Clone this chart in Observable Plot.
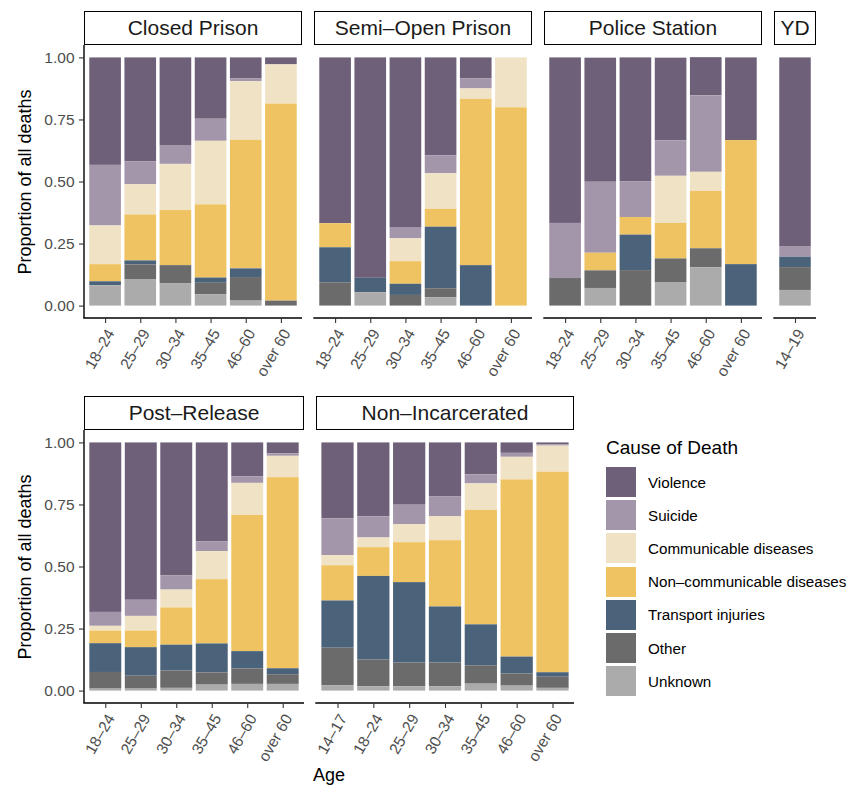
<!DOCTYPE html>
<html>
<head>
<meta charset="utf-8">
<script src="https://cdn.jsdelivr.net/npm/d3@7"></script>
<script src="https://cdn.jsdelivr.net/npm/@observablehq/plot@0.6"></script>
<style>
  body { margin: 0; background: #fff; font-family: "Liberation Sans", Arial, Helvetica, sans-serif; }
  #root { position: relative; width: 851px; height: 788px; overflow: hidden; background: #fff; }
  .strip { position: absolute; box-sizing: border-box; border: 1.6px solid #000; background: #fff;
           display: flex; align-items: center; justify-content: center; font-size: 21px; color: #1a1a1a; white-space: nowrap; }
  .ytitle { position: absolute; font-size: 18px; color: #000; white-space: nowrap;
            transform: translate(-50%, -50%) rotate(-90deg); }
  .xtitle { position: absolute; font-size: 18px; color: #000; white-space: nowrap; transform: translateX(-50%); }
  .legend { position: absolute; }
  .legend-title { font-size: 19px; color: #000; white-space: nowrap; }
  .legend-row { display: flex; align-items: center; height: 33.2px; }
  .legend-swatch { width: 30px; height: 30px; margin-right: 12px; }
  .legend-label { font-size: 15.2px; color: #000; white-space: nowrap; }
  svg.panel { position: absolute; overflow: visible; max-width: none; background: transparent; }
</style>
</head>
<body>
<div id="root"></div>
<script>
// ---------- data ----------
const causes = ["Violence", "Suicide", "Communicable diseases", "Non–communicable diseases",
                "Transport injuries", "Other", "Unknown"];
const causeColors = ["#6f6079", "#a496aa", "#f0e2c4", "#f0c362", "#4b637a", "#6b6b6b", "#ababab"];

// each values table: one row per cause (in the order of `causes`), one column per age group
const closedAges = ["18–24", "25–29", "30–34", "35–45", "46–60", "over 60"];
const closedValues = [
  [0.433, 0.418, 0.353, 0.247, 0.085, 0.028], // Violence
  [0.244, 0.093, 0.076, 0.089, 0.011, 0.000], // Suicide
  [0.156, 0.122, 0.186, 0.256, 0.236, 0.158], // Communicable
  [0.069, 0.185, 0.222, 0.295, 0.518, 0.794], // Non-communicable
  [0.016, 0.016, 0.000, 0.021, 0.035, 0.000], // Transport
  [0.000, 0.061, 0.074, 0.046, 0.095, 0.020], // Other
  [0.082, 0.105, 0.089, 0.046, 0.020, 0.000]  // Unknown
];

const semiAges = ["18–24", "25–29", "30–34", "35–45", "46–60", "over 60"];
const semiValues = [
  [0.668, 0.888, 0.686, 0.395, 0.085, 0.000],
  [0.000, 0.000, 0.043, 0.071, 0.040, 0.000],
  [0.000, 0.000, 0.092, 0.144, 0.042, 0.201],
  [0.097, 0.000, 0.091, 0.072, 0.670, 0.799],
  [0.141, 0.058, 0.045, 0.248, 0.163, 0.000],
  [0.094, 0.000, 0.043, 0.036, 0.000, 0.000],
  [0.000, 0.054, 0.000, 0.034, 0.000, 0.000]
];

const policeAges = ["18–24", "25–29", "30–34", "35–45", "46–60", "over 60"];
const policeValues = [
  [0.667, 0.500, 0.500, 0.333, 0.154, 0.333],
  [0.222, 0.286, 0.143, 0.143, 0.308, 0.000],
  [0.000, 0.000, 0.000, 0.190, 0.077, 0.000],
  [0.000, 0.071, 0.071, 0.143, 0.231, 0.500],
  [0.000, 0.000, 0.143, 0.000, 0.000, 0.167],
  [0.111, 0.071, 0.143, 0.095, 0.077, 0.000],
  [0.000, 0.071, 0.000, 0.095, 0.154, 0.000]
];

const ydAges = ["14–19"];
const ydValues = [[0.760], [0.043], [0.000], [0.000], [0.042], [0.092], [0.063]];

const postAges = ["18–24", "25–29", "30–34", "35–45", "46–60", "over 60"];
const postValues = [
  [0.683, 0.634, 0.536, 0.399, 0.137, 0.044],
  [0.056, 0.065, 0.057, 0.039, 0.026, 0.010],
  [0.019, 0.059, 0.072, 0.113, 0.129, 0.086],
  [0.051, 0.067, 0.150, 0.259, 0.549, 0.770],
  [0.116, 0.115, 0.104, 0.117, 0.070, 0.024],
  [0.067, 0.052, 0.070, 0.049, 0.062, 0.039],
  [0.008, 0.008, 0.011, 0.024, 0.027, 0.027]
];

const nonIncAges = ["14–17", "18–24", "25–29", "30–34", "35–45", "46–60", "over 60"];
const nonIncValues = [
  [0.306, 0.298, 0.251, 0.218, 0.129, 0.042, 0.008],
  [0.148, 0.085, 0.078, 0.079, 0.036, 0.016, 0.005],
  [0.041, 0.039, 0.073, 0.097, 0.107, 0.091, 0.105],
  [0.142, 0.116, 0.161, 0.267, 0.461, 0.714, 0.808],
  [0.190, 0.337, 0.324, 0.226, 0.165, 0.068, 0.018],
  [0.151, 0.108, 0.096, 0.096, 0.074, 0.049, 0.045],
  [0.022, 0.017, 0.017, 0.017, 0.028, 0.020, 0.011]
];

const yTicks = [0, 0.25, 0.5, 0.75, 1];

// ---------- layout ----------
const panels = [
  {title: "Closed Prison",     ages: closedAges, values: closedValues, left: 84,  top: 45,  width: 218, yAxis: true},
  {title: "Semi–Open Prison",  ages: semiAges,   values: semiValues,   left: 314, top: 45,  width: 218, yAxis: false},
  {title: "Police Station",    ages: policeAges, values: policeValues, left: 544, top: 45,  width: 218, yAxis: false},
  {title: "YD",                ages: ydAges,     values: ydValues,     left: 774, top: 45,  width: 42,  yAxis: false},
  {title: "Post–Release",      ages: postAges,   values: postValues,   left: 84,  top: 430, width: 220, yAxis: true},
  {title: "Non–Incarcerated",  ages: nonIncAges, values: nonIncValues, left: 316, top: 430, width: 258, yAxis: false}
];
const panelH = 273, stripH = 34;
const font = '"Liberation Sans", Arial, Helvetica, sans-serif';

const root = document.getElementById("root");
const stackOrder = causes.slice().reverse();

function axisLines(showY) {
  return (index, scales, values, dims) => {
    const {width, height, marginLeft, marginRight, marginTop, marginBottom} = dims;
    const g = d3.create("svg:g");
    const yb = height - marginBottom;
    g.append("line").attr("x1", marginLeft - 0.7).attr("x2", width - marginRight)
      .attr("y1", yb).attr("y2", yb).attr("stroke", "#000").attr("stroke-width", 1.4);
    if (showY) {
      g.append("line").attr("x1", marginLeft).attr("x2", marginLeft)
        .attr("y1", marginTop).attr("y2", yb).attr("stroke", "#000").attr("stroke-width", 1.4);
    }
    return g.node();
  };
}

for (const p of panels) {
  const data = [];
  causes.forEach((c, i) => p.ages.forEach((a, j) => data.push({age: a, cause: c, value: p.values[i][j]})));
  const mL = 90, mR = 10, mT = 4, mB = 70;
  const chart = Plot.plot({
    width: p.width + mL + mR,
    height: panelH + mT + mB,
    marginLeft: mL, marginRight: mR, marginTop: mT, marginBottom: mB,
    style: {fontFamily: font, background: "transparent", overflow: "visible"},
    x: {domain: p.ages, paddingInner: 0.1, paddingOuter: 0.15, round: false, label: null},
    y: {domain: [-0.05, 1.05], label: null, axis: p.yAxis ? undefined : null},
    color: {domain: causes, range: causeColors},
    marks: [
      Plot.barY(data, {x: "age", y: "value", fill: "cause", order: stackOrder}),
      axisLines(p.yAxis),
      Plot.axisX({tickSize: 5, tickFormat: () => "", stroke: "#333", strokeWidth: 1.1, label: null}),
      Plot.text(p.ages, {x: d => d, text: d => d, frameAnchor: "bottom", dy: 9, rotate: -60,
                         textAnchor: "end", lineAnchor: "top", fontSize: 15.5, fill: "#4d4d4d"}),
      p.yAxis ? Plot.axisY({ticks: yTicks, tickFormat: d3.format(".2f"), tickSize: 5, tickPadding: 5,
                            fontSize: 15.5, fill: "#4d4d4d", stroke: "#333", strokeWidth: 1.1, label: null}) : null
    ]
  });
  chart.classList.add("panel");
  chart.style.left = (p.left - mL) + "px";
  chart.style.top = (p.top - mT) + "px";
  root.appendChild(chart);

  const strip = document.createElement("div");
  strip.className = "strip";
  strip.style.left = p.left + "px";
  strip.style.top = (p.top - stripH) + "px";
  strip.style.width = p.width + "px";
  strip.style.height = stripH + "px";
  strip.textContent = p.title;
  root.appendChild(strip);
}

// axis titles
for (const cy of [181.5, 566.5]) {
  const t = document.createElement("div");
  t.className = "ytitle";
  t.style.left = "25px";
  t.style.top = cy + "px";
  t.textContent = "Proportion of all deaths";
  root.appendChild(t);
}
const xt = document.createElement("div");
xt.className = "xtitle";
xt.style.left = "329px";
xt.style.top = "765px";
xt.textContent = "Age";
root.appendChild(xt);

// legend
const legend = d3.select(root).append("div").attr("class", "legend")
  .style("left", "606px").style("top", "437px");
legend.append("div").attr("class", "legend-title").style("margin-bottom", "6.5px").text("Cause of Death");
const rows = legend.selectAll(".legend-row").data(causes).join("div").attr("class", "legend-row");
rows.append("div").attr("class", "legend-swatch").style("background", (d, i) => causeColors[i]);
rows.append("div").attr("class", "legend-label").text(d => d);
</script>
</body>
</html>
